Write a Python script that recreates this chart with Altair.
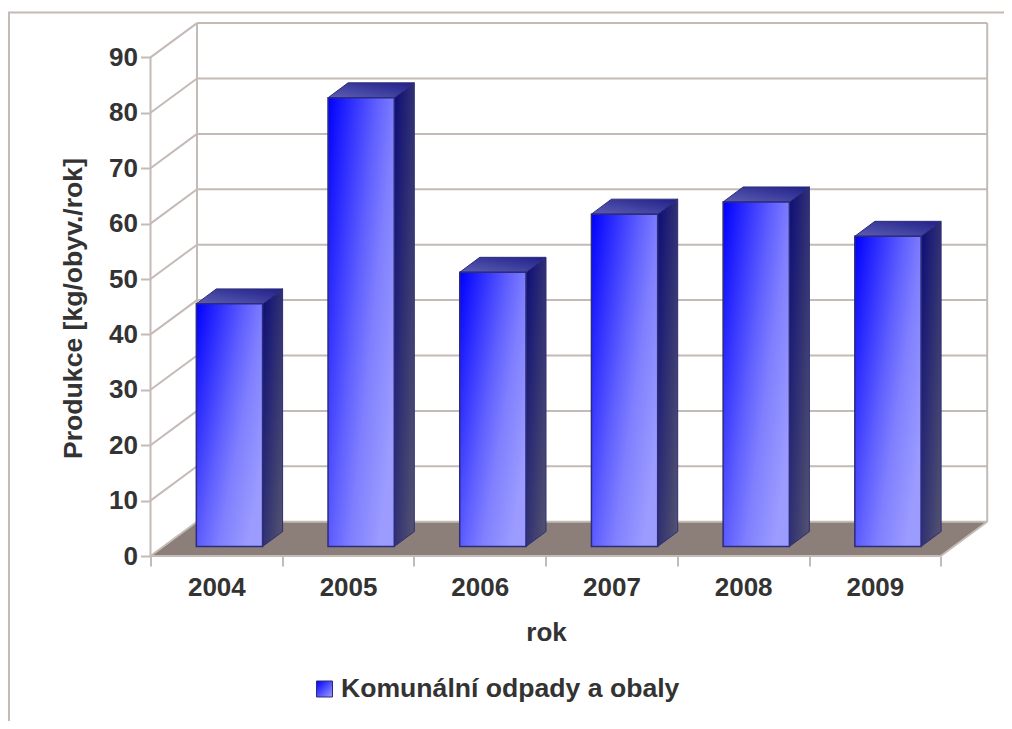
import altair as alt
import pandas as pd

years = ["2004", "2005", "2006", "2007", "2008", "2009"]
values = [43.8, 81.0, 49.5, 60.0, 62.2, 56.0]
ticks = [0, 10, 20, 30, 40, 50, 60, 70, 80, 90]
series_name = "Komunální odpady a obaly"
y_title = "Produkce [kg/obyv./rok]"
x_title = "rok"

# 3D projection, in axis units
WALL_DX, WALL_DY = 0.353, 6.19
BAR_OFF, BAR_W = 0.348, 0.503
BAR_DX, BAR_DY = 0.152, 2.7
BAR_BASE = 1.71
N = len(years)

FONT = "Liberation Sans"
GRID = "#c4bab6"
TEXT = "#333333"
EDGE = "#2c2c78"
FS = 26
FS_T = 26.6


def grad(stops, x1=0, y1=0, x2=1, y2=1):
    return alt.LinearGradient(
        gradient="linear", x1=x1, y1=y1, x2=x2, y2=y2,
        stops=[alt.GradientStop(color=c, offset=o) for o, c in stops],
    )


front_grad = grad([(0, "#0000ff"), (0.5, "#6060ff"), (0.7, "#8080ff"), (1, "#9c9cff")], 0, 0, 1, 0.7)
side_grad = grad([(0, "#0c0c78"), (1, "#55556f")], 0, 0, 1, 1)
top_grad = grad([(0, "#5e5eb4"), (1, "#20208a")], 0, 1, 1, 0)

x_scale = alt.Scale(domain=[0, (988 - 150.5) / 131.7], nice=False, zero=False)
y_scale = alt.Scale(domain=[0, 533 / 5.54], nice=False, zero=False)

# wall lines
lines = []
for t in ticks:
    lines.append(dict(x=WALL_DX, x2=WALL_DX + N, y=t + WALL_DY, y2=t + WALL_DY))
    lines.append(dict(x=0, x2=WALL_DX, y=t, y2=t + WALL_DY))
lines.append(dict(x=0, x2=0, y=0, y2=ticks[-1]))
lines.append(dict(x=WALL_DX, x2=WALL_DX, y=WALL_DY, y2=ticks[-1] + WALL_DY))
lines.append(dict(x=WALL_DX + N, x2=WALL_DX + N, y=WALL_DY, y2=ticks[-1] + WALL_DY))
lines.append(dict(x=0, x2=N, y=0, y2=0))
lines.append(dict(x=N, x2=N + WALL_DX, y=0, y2=WALL_DY))
lines_df = pd.DataFrame(lines)

floor_df = pd.DataFrame([
    dict(x=0, y=0, y2=0),
    dict(x=WALL_DX, y=WALL_DY, y2=0),
    dict(x=N, y=WALL_DY, y2=0),
    dict(x=N + WALL_DX, y=WALL_DY, y2=WALL_DY),
])

front, side, top = [], [], []
for i, (yr, v) in enumerate(zip(years, values)):
    l = i + BAR_OFF
    r = l + BAR_W
    t = BAR_BASE + v
    front.append(dict(year=yr, x=l, x2=r, y=t, y2=BAR_BASE))
    side += [dict(year=yr, x=r, y=t, y2=BAR_BASE),
             dict(year=yr, x=r + BAR_DX, y=t + BAR_DY, y2=BAR_BASE + BAR_DY)]
    top += [dict(year=yr, x=l, y=t, y2=t),
            dict(year=yr, x=l + BAR_DX, y=t + BAR_DY, y2=t),
            dict(year=yr, x=r, y=t + BAR_DY, y2=t),
            dict(year=yr, x=r + BAR_DX, y=t + BAR_DY, y2=t + BAR_DY)]
front_df, side_df, top_df = map(pd.DataFrame, (front, side, top))

label_expr = "(%s)[datum.value] || ''" % str(years)
x_axis = alt.Axis(
    values=list(range(N + 1)), labelExpr=label_expr, labelOffset=65.85, grid=False, domain=False,
    tickSize=10, tickWidth=2, tickColor=GRID, labelFont=FONT, labelFontSize=FS, labelFontWeight="bold",
    labelColor=TEXT, labelPadding=8, labelAngle=0, labelFlush=False, labelOverlap=False,
    title=x_title, titleFont=FONT, titleFontSize=FS, titleFontWeight="bold", titleColor=TEXT,
    titleX=395.5, titleY=76, titleBaseline="middle",
)
y_axis = alt.Axis(
    values=ticks, grid=False, domain=False, tickSize=10, tickWidth=2, tickColor=GRID,
    labelFont=FONT, labelFontSize=FS, labelFontWeight="bold", labelColor=TEXT, labelPadding=3,
    title=y_title, titleFont=FONT, titleFontSize=FS_T, titleFontWeight="bold", titleColor=TEXT,
    titleX=-77.5, titleY=285, titleBaseline="middle",
)

X = alt.X("x:Q", scale=x_scale, axis=x_axis)
Y = alt.Y("y:Q", scale=y_scale, axis=y_axis)

floor = alt.Chart(floor_df).mark_area(color="#8c7e78").encode(x=X, y=Y, y2="y2:Q")
walls = alt.Chart(lines_df).mark_rule(color=GRID, strokeWidth=2).encode(x=X, x2="x2:Q", y=Y, y2="y2:Q")
side_l = alt.Chart(side_df).mark_area(color=side_grad, stroke=EDGE, strokeWidth=1).encode(
    x=X, y=Y, y2="y2:Q", detail="year:N")
top_l = alt.Chart(top_df).mark_area(color=top_grad, stroke=EDGE, strokeWidth=1).encode(
    x=X, y=Y, y2="y2:Q", detail="year:N")
front_l = alt.Chart(front_df).mark_rect(color=front_grad, stroke=EDGE, strokeWidth=1.5).encode(
    x=X, x2="x2:Q", y=Y, y2="y2:Q")

# outer frame (top and left edges only) and legend, placed in pixels relative to the plot
frame_top = alt.Chart(pd.DataFrame({"a": [0]})).mark_rule(color=GRID, strokeWidth=2).encode(
    x=alt.value(-142.5), x2=alt.value(861.5), y=alt.value(-10.5))
frame_left = alt.Chart(pd.DataFrame({"a": [0]})).mark_rule(color=GRID, strokeWidth=2).encode(
    x=alt.value(-141.5), y=alt.value(-10.5), y2=alt.value(706))
swatch = alt.Chart(pd.DataFrame({"a": [0]})).mark_square(
    size=256, color=grad([(0, "#0000ff"), (1, "#9c9cff")]), stroke=EDGE, strokeWidth=1, opacity=1
).encode(x=alt.value(174), y=alt.value(666))
legend_text = alt.Chart(pd.DataFrame({"t": [series_name]})).mark_text(
    font=FONT, fontSize=FS_T, fontWeight="bold", color=TEXT, align="left", baseline="middle"
).encode(x=alt.value(190.5), y=alt.value(666), text="t:N")

chart = alt.layer(
    floor, walls, side_l, top_l, front_l, frame_top, frame_left, swatch, legend_text
).resolve_scale(x="shared", y="shared").properties(
    width=837.5, height=533,
    padding={"left": 142.5, "top": 15, "right": 16, "bottom": 165},
    autosize=alt.AutoSizeParams(type="none"),
    background="white",
).configure_view(stroke=None)

chart.save("out.html", embed_options={"renderer": "svg", "actions": False})
